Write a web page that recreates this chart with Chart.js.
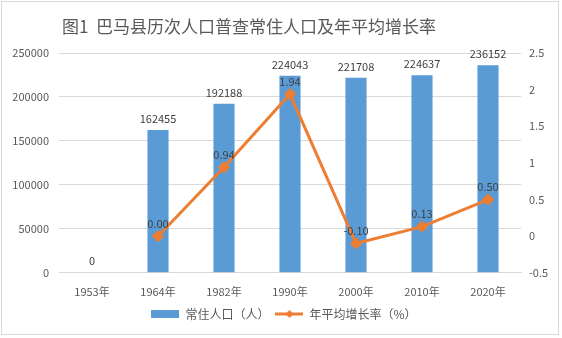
<!DOCTYPE html>
<html>
<head>
<meta charset="utf-8">
<script src="https://cdn.jsdelivr.net/npm/chart.js@4"></script>
<style>
  html, body { margin: 0; padding: 0; background: #fff; }
  #wrap { position: absolute; left: 1px; top: 1px; width: 556px; height: 332px; border: 1px solid #d9d9d9; }
  canvas { display: block; }
</style>
</head>
<body>
<div id="wrap"><canvas id="chart" width="556" height="332"></canvas></div>
<script>
const years = ['1953年', '1964年', '1982年', '1990年', '2000年', '2010年', '2020年'];
const population = [0, 162455, 192188, 224043, 221708, 224637, 236152];
const growthRate = [null, 0.00, 0.94, 1.94, -0.10, 0.13, 0.50];
const popLabels = ['0', '162455', '192188', '224043', '221708', '224637', '236152'];
const rateLabels = ['', '0.00', '0.94', '1.94', '-0.10', '0.13', '0.50'];
const titleText = '图1  巴马县历次人口普查常住人口及年平均增长率';

const FONT = '"Microsoft YaHei", "Noto Sans CJK SC", sans-serif';
const BLUE = '#5b9bd5';
const ORANGE = '#ed7d31';

function legendIcon(kind) {
  const c = document.createElement('canvas');
  c.width = 28; c.height = 10;
  const g = c.getContext('2d');
  if (kind === 'bar') {
    g.fillStyle = BLUE;
    g.fillRect(0, 1, 28, 8);
  } else {
    g.strokeStyle = ORANGE;
    g.lineWidth = 3;
    g.beginPath(); g.moveTo(0, 5); g.lineTo(28, 5); g.stroke();
    g.fillStyle = ORANGE;
    g.beginPath(); g.moveTo(14, 1); g.lineTo(18, 5); g.lineTo(14, 9); g.lineTo(10, 5); g.closePath(); g.fill();
  }
  return c;
}

// title is drawn by hand so it can sit left of centre like the original
const titleAndLabels = {
  id: 'titleAndLabels',
  afterDraw(chart) {
    const ctx = chart.ctx;
    ctx.save();
    ctx.font = '17px ' + FONT;
    ctx.fillStyle = '#595959';
    ctx.textAlign = 'left';
    ctx.textBaseline = 'middle';
    ctx.fillText(titleText, 60, 25);
    ctx.restore();
  },
  afterDatasetsDraw(chart) {
    const ctx = chart.ctx;
    ctx.save();
    ctx.font = '11px ' + FONT;
    ctx.fillStyle = '#404040';
    ctx.textAlign = 'center';
    ctx.textBaseline = 'bottom';
    chart.getDatasetMeta(0).data.forEach((bar, i) => {
      ctx.fillText(popLabels[i], bar.x, bar.y - 6);
    });
    chart.getDatasetMeta(1).data.forEach((pt, i) => {
      if (growthRate[i] === null) return;
      ctx.fillText(rateLabels[i], pt.x, pt.y - 7);
    });
    ctx.restore();
  }
};

new Chart(document.getElementById('chart').getContext('2d'), {
  data: {
    labels: years,
    datasets: [{
      type: 'bar',
      label: '常住人口（人）',
      data: population,
      backgroundColor: BLUE,
      categoryPercentage: 1,
      barPercentage: 0.32,
      yAxisID: 'y',
      order: 2
    }, {
      type: 'line',
      label: '年平均增长率（%）',
      data: growthRate,
      borderColor: ORANGE,
      backgroundColor: ORANGE,
      borderWidth: 3,
      pointStyle: 'rectRot',
      pointRadius: 4,
      tension: 0,
      yAxisID: 'y1',
      order: 1
    }]
  },
  options: {
    responsive: false,
    animation: false,
    layout: { padding: { left: 8, right: 0, top: 51, bottom: 4 } },
    plugins: {
      title: { display: false },
      legend: {
        position: 'bottom',
        labels: {
          usePointStyle: true,
          pointStyleWidth: 28,
          color: '#595959',
          font: { family: FONT, size: 12 },
          padding: 6,
          generateLabels: () => [
            { text: '常住人口（人）', pointStyle: legendIcon('bar'), fontColor: '#595959', datasetIndex: 0 },
            { text: '年平均增长率（%）', pointStyle: legendIcon('line'), fontColor: '#595959', datasetIndex: 1 }
          ]
        }
      },
      tooltip: { enabled: false }
    },
    scales: {
      x: {
        grid: { display: false },
        border: { color: '#d9d9d9' },
        ticks: { color: '#595959', font: { family: FONT, size: 11 }, padding: 4 }
      },
      y: {
        position: 'left',
        min: 0, max: 250000,
        ticks: { stepSize: 50000, color: '#595959', font: { family: FONT, size: 11 }, padding: 10,
          callback: v => String(v) },
        grid: { color: '#d9d9d9', drawTicks: false },
        border: { display: false },
        afterFit(s) { s.width = 49; }
      },
      y1: {
        position: 'right',
        min: -0.5, max: 2.5,
        ticks: { stepSize: 0.5, color: '#595959', font: { family: FONT, size: 11 }, padding: 8,
          callback: v => String(v) },
        grid: { display: false, drawTicks: false },
        border: { display: false },
        afterFit(s) { s.width = 37; }
      }
    }
  },
  plugins: [titleAndLabels]
});
</script>
</body>
</html>
